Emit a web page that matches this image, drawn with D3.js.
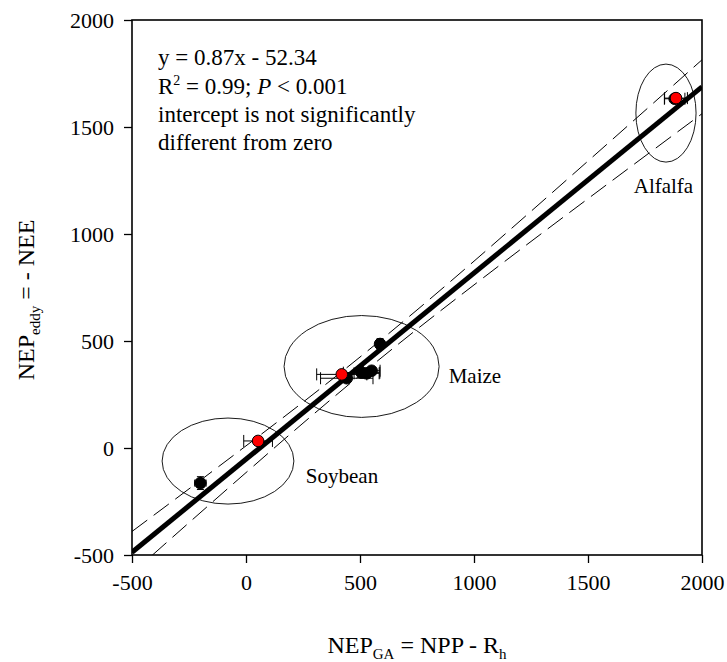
<!DOCTYPE html>
<html>
<head>
<meta charset="utf-8">
<script src="https://cdn.jsdelivr.net/npm/d3@7"></script>
<style>
  html, body { margin: 0; padding: 0; background: #fff; }
  svg { display: block; }
  text { font-family: "Liberation Serif", "Times New Roman", serif; fill: #000; }
</style>
</head>
<body>
<svg id="chart" width="727" height="662"></svg>
<script>
// ---------- data ----------
const xTicks = [-500, 0, 500, 1000, 1500, 2000];
const yTicks = [-500, 0, 500, 1000, 1500, 2000];

// black points (x, y, x error, y error)
const blackX    = [-200, 588, 442, 507, 551, 529, 1880];
const blackY    = [-164, 486, 326, 352, 361, 349, 1632];
const blackXErr = [25, 15, 115, 80, 37, 55, 45];
const blackYErr = [30, 25, 15, 15, 15, 10, 0];

// red points
const redX    = [53, 420, 1886];
const redY    = [33, 344, 1635];
const redXErr = [63, 110, 50];

// fitted regression line endpoints (y = 0.87x - 52.34)
const fitX = [-500, 2000];
const fitY = [-487.3, 1687.7];

// confidence band (dashed)
const bandX     = [-500, -250, 0, 250, 500, 750, 1000, 1250, 1500, 1750, 2000];
const bandUpper = [-390, -191, 10, 214, 425, 645, 873, 1106, 1341, 1577, 1814];
const bandLower = [-585, -349, -115, 116, 340, 555, 762, 965, 1165, 1364, 1562];

// group ellipses (centre x, centre y, radius x, radius y in data units)
const groupNames = ["Soybean", "Maize", "Alfalfa"];
const groupCX = [-79, 507, 1842];
const groupCY = [-61, 381, 1565];
const groupRX = [289, 340, 132];
const groupRY = [201, 238, 229];
// label anchor (data units)
const labelX = [421, 1004, 1831];
const labelY = [-165, 306, 1193];

const noteLines = ["y = 0.87x - 52.34", "R2", "intercept is not significantly", "different from zero"];

// ---------- layout ----------
const svg = d3.select("#chart");
const L = 132, R = 702, T = 20, B = 555;
const x = d3.scaleLinear().domain([-500, 2000]).range([L, R]);
const y = d3.scaleLinear().domain([-500, 2000]).range([B, T]);

svg.append("rect").attr("width", 727).attr("height", 662).attr("fill", "#fff");

svg.append("defs").append("clipPath").attr("id", "plotclip")
  .append("rect").attr("x", L).attr("y", T).attr("width", R - L).attr("height", B - T);

const plot = svg.append("g").attr("clip-path", "url(#plotclip)");

// ellipses
groupNames.forEach((g, i) => {
  plot.append("ellipse")
    .attr("cx", x(groupCX[i])).attr("cy", y(groupCY[i]))
    .attr("rx", x(groupCX[i] + groupRX[i]) - x(groupCX[i]))
    .attr("ry", y(groupCY[i]) - y(groupCY[i] + groupRY[i]))
    .attr("fill", "none").attr("stroke", "#000").attr("stroke-width", 0.9);
});

// confidence band
const bandLine = (arr) => d3.line().x((d, i) => x(bandX[i])).y((d, i) => y(arr[i])).curve(d3.curveMonotoneX)(arr);
[bandUpper, bandLower].forEach(arr => {
  plot.append("path").attr("d", bandLine(arr))
    .attr("fill", "none").attr("stroke", "#000").attr("stroke-width", 1)
    .attr("stroke-dasharray", "19,8");
});

// regression line
plot.append("path")
  .attr("d", d3.line().x((d, i) => x(fitX[i])).y((d, i) => y(fitY[i]))(fitX))
  .attr("fill", "none").attr("stroke", "#000").attr("stroke-width", 5);

// error bars
function errBars(xs, ys, xe, ye) {
  xs.forEach((xv, i) => {
    const cx = x(xv), cy = y(ys[i]);
    if (xe[i] > 0) {
      const x0 = x(xv - xe[i]), x1 = x(xv + xe[i]);
      const cap = xe[i] > 30 ? 6 : 3.5;
      plot.append("line").attr("x1", x0).attr("x2", x1).attr("y1", cy).attr("y2", cy)
        .attr("stroke", "#000").attr("stroke-width", 1);
      [x0, x1].forEach(xx => plot.append("line").attr("x1", xx).attr("x2", xx)
        .attr("y1", cy - cap).attr("y2", cy + cap).attr("stroke", "#000").attr("stroke-width", 1));
    }
    if (ye && ye[i] > 0) {
      const y0 = y(ys[i] - ye[i]), y1 = y(ys[i] + ye[i]);
      plot.append("line").attr("x1", cx).attr("x2", cx).attr("y1", y0).attr("y2", y1)
        .attr("stroke", "#000").attr("stroke-width", 1);
      [y0, y1].forEach(yy => plot.append("line").attr("y1", yy).attr("y2", yy)
        .attr("x1", cx - 3.5).attr("x2", cx + 3.5).attr("stroke", "#000").attr("stroke-width", 1));
    }
  });
}
errBars(blackX, blackY, blackXErr, blackYErr);
errBars(redX, redY, redXErr, null);

// points
plot.selectAll("circle.blk").data(blackX).enter().append("circle")
  .attr("class", "blk")
  .attr("cx", (d) => x(d)).attr("cy", (d, i) => y(blackY[i])).attr("r", 5.8)
  .attr("fill", "#000").attr("stroke", "#000");
plot.selectAll("circle.red").data(redX).enter().append("circle")
  .attr("class", "red")
  .attr("cx", (d) => x(d)).attr("cy", (d, i) => y(redY[i])).attr("r", 5.8)
  .attr("fill", "#ff0000").attr("stroke", "#000").attr("stroke-width", 1);

// group labels
groupNames.forEach((g, i) => {
  svg.append("text").attr("x", x(labelX[i])).attr("y", y(labelY[i]))
    .attr("text-anchor", "middle").attr("font-size", 21).text(g);
});

// frame
svg.append("rect").attr("x", L).attr("y", T).attr("width", R - L).attr("height", B - T)
  .attr("fill", "none").attr("stroke", "#000").attr("stroke-width", 1.6);

// axes
const xAxis = svg.append("g").attr("transform", `translate(0,${B})`)
  .call(d3.axisBottom(x).tickValues(xTicks).tickSize(8).tickPadding(11).tickFormat(d3.format("d")));
const yAxis = svg.append("g").attr("transform", `translate(${L},0)`)
  .call(d3.axisLeft(y).tickValues(yTicks).tickSize(8).tickPadding(10).tickFormat(d3.format("d")));
[xAxis, yAxis].forEach(a => {
  a.select(".domain").remove();
  a.selectAll(".tick line").attr("stroke", "#000").attr("stroke-width", 1.3);
  a.selectAll(".tick text").attr("font-size", 22)
    .attr("font-family", '"Liberation Serif", "Times New Roman", serif').attr("fill", "#000");
});
xAxis.selectAll(".tick text").text(d => d < 0 ? "-" + Math.abs(d) : d);
yAxis.selectAll(".tick text").text(d => d < 0 ? "-" + Math.abs(d) : d);

// annotation
const note = svg.append("g").attr("font-size", 23);
note.append("text").attr("x", 158).attr("y", 65).text(noteLines[0]);
const t2 = note.append("text").attr("x", 158).attr("y", 93.5);
t2.append("tspan").text("R");
t2.append("tspan").attr("dy", -9).attr("font-size", 14).text("2");
t2.append("tspan").attr("dy", 9).text(" = 0.99; ");
t2.append("tspan").attr("font-style", "italic").text("P");
t2.append("tspan").text(" < 0.001");
note.append("text").attr("x", 158).attr("y", 121.5).text(noteLines[2]);
note.append("text").attr("x", 158).attr("y", 150).text(noteLines[3]);

// axis titles
const xt = svg.append("text").attr("x", (L + R) / 2).attr("y", 653)
  .attr("text-anchor", "middle").attr("font-size", 24);
xt.append("tspan").text("NEP");
xt.append("tspan").attr("dy", 6).attr("font-size", 15).text("GA");
xt.append("tspan").attr("dy", -6).text(" = NPP - R");
xt.append("tspan").attr("dy", 6).attr("font-size", 15).text("h");

const yt = svg.append("text").attr("transform", "translate(34,300) rotate(-90)")
  .attr("text-anchor", "middle").attr("font-size", 24);
yt.append("tspan").text("NEP");
yt.append("tspan").attr("dy", 6).attr("font-size", 15).text("eddy");
yt.append("tspan").attr("dy", -6).text(" = - NEE");
</script>
</body>
</html>
